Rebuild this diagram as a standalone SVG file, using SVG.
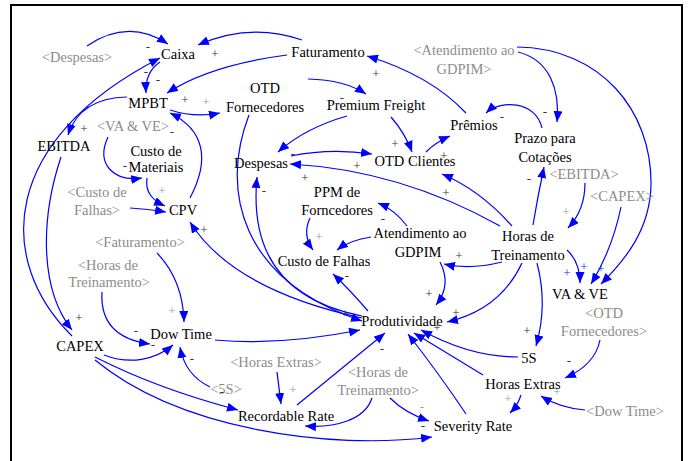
<svg xmlns="http://www.w3.org/2000/svg" width="688" height="461" viewBox="0 0 688 461" font-family="'Liberation Serif', 'Times New Roman', serif">
<defs>
<marker id="ah" markerUnits="userSpaceOnUse" markerWidth="12" markerHeight="10" refX="11" refY="4.5" orient="auto">
<path d="M0,0 L11,4.5 L0,9 z" fill="#0000ff"/>
</marker>
<style>
text{font-family:'Liberation Serif','Times New Roman',serif;font-size:14.5px;text-anchor:middle}
.n{fill:#000}
.g{fill:#8c8c8c}
.p{fill:#333;font-size:13px}
.pg{fill:#999;font-size:13px}
.pb{fill:#2020ff;font-size:13px}
#links path{fill:none;stroke:#0000ff;stroke-width:1.2;marker-end:url(#ah)}
</style>
</defs>
<rect x="0" y="0" width="688" height="461" fill="#fff"/>
<rect x="11" y="5" width="671" height="470" fill="none" stroke="#000" stroke-width="2"/>
<g id="links">
<path d="M87,46 Q128,18 168,44"/>
<path d="M302,40 Q250,22 198,45"/>
<path d="M287,55 Q210,65 167,93"/>
<path d="M160,62 Q145,72 146,93"/>
<path d="M72,336 C-5,260 0,140 160,58"/>
<path d="M61,157 C40,220 40,290 72,330"/>
<path d="M127,97 Q80,98 68,135"/>
<path d="M170,110 Q195,118 220,113"/>
<path d="M190,198 C210,160 205,130 170,113"/>
<path d="M108,137 C95,165 115,182 142,178"/>
<path d="M147,178 C145,192 152,200 165,206"/>
<path d="M130,208 Q148,209 166,212"/>
<path d="M362,318 C280,300 220,270 190,222"/>
<path d="M249,115 C220,190 240,280 362,321"/>
<path d="M362,316 C280,300 250,250 257,177"/>
<path d="M368,311 Q350,290 333,274"/>
<path d="M215,340 C270,345 320,338 360,330"/>
<path d="M308,79 Q345,80 366,94"/>
<path d="M347,116 Q305,128 278,152"/>
<path d="M291,156 Q330,148 372,154"/>
<path d="M391,117 Q405,133 412,152"/>
<path d="M426,152 Q436,142 450,136"/>
<path d="M466,113 Q430,75 367,56"/>
<path d="M542,128 C535,100 500,100 486,113"/>
<path d="M518,52 C550,60 560,90 557,122"/>
<path d="M517,47 C600,48 652,110 651,185 C650,230 625,260 601,284"/>
<path d="M500,226 Q400,170 290,164"/>
<path d="M512,226 Q480,190 442,174"/>
<path d="M533,225 Q538,195 544,167"/>
<path d="M502,262 Q470,270 444,264"/>
<path d="M522,263 Q500,310 447,322"/>
<path d="M537,263 Q548,305 536,346"/>
<path d="M567,250 Q580,262 580,283"/>
<path d="M585,183 Q585,210 568,228"/>
<path d="M621,207 Q612,250 591,284"/>
<path d="M407,226 Q395,210 378,203"/>
<path d="M371,237 Q350,240 337,250"/>
<path d="M310,218 Q302,235 313,250"/>
<path d="M440,262 Q452,285 436,305"/>
<path d="M157,253 Q183,280 184,322"/>
<path d="M102,292 C100,325 120,340 150,344"/>
<path d="M104,355 C130,365 155,360 173,345"/>
<path d="M210,387 Q185,375 180,347"/>
<path d="M95,357 C150,385 200,400 238,410"/>
<path d="M95,360 C180,430 330,450 432,437"/>
<path d="M277,372 Q279,388 281,404"/>
<path d="M297,405 Q340,370 385,333"/>
<path d="M372,398 C365,420 335,428 305,426"/>
<path d="M390,398 Q405,413 429,421"/>
<path d="M466,414 Q440,375 408,334"/>
<path d="M521,395 Q518,405 510,413"/>
<path d="M483,375 Q450,355 414,333"/>
<path d="M518,357 Q470,357 421,330"/>
<path d="M600,340 Q595,365 565,378"/>
<path d="M585,410 Q560,408 541,396"/>
</g>
<g id="polarity">
<text class="p" x="148" y="51">-</text>
<text class="p" x="215" y="58">+</text>
<text class="p" x="146" y="76">-</text>
<text class="p" x="158" y="84">-</text>
<text class="p" x="185" y="104">+</text>
<text class="pg" x="206" y="106">+</text>
<text class="p" x="84" y="133">+</text>
<text class="p" x="172" y="136">-</text>
<text class="pb" x="125" y="170">-</text>
<text class="pg" x="162" y="195">+</text>
<text class="p" x="204" y="234">+</text>
<text class="p" x="264" y="195">-</text>
<text class="p" x="293" y="158">-</text>
<text class="p" x="305" y="182">+</text>
<text class="p" x="357" y="170">+</text>
<text class="p" x="376" y="78">+</text>
<text class="p" x="395" y="148">+</text>
<text class="p" x="444" y="160">+</text>
<text class="p" x="502" y="121">-</text>
<text class="p" x="545" y="116">-</text>
<text class="p" x="342" y="102">-</text>
<text class="p" x="383" y="223">-</text>
<text class="pg" x="319" y="241">+</text>
<text class="p" x="446" y="197">+</text>
<text class="p" x="529" y="183">-</text>
<text class="pg" x="566" y="216">+</text>
<text class="p" x="459" y="260">+</text>
<text class="pb" x="567" y="277">+</text>
<text class="pb" x="584" y="271">+</text>
<text class="pb" x="601" y="273">+</text>
<text class="p" x="429" y="298">+</text>
<text class="p" x="456" y="317">+</text>
<text class="p" x="437" y="332">+</text>
<text class="p" x="429" y="335">-</text>
<text class="p" x="347" y="280">-</text>
<text class="p" x="345" y="318">+</text>
<text class="p" x="382" y="353">-</text>
<text class="p" x="527" y="335">+</text>
<text class="p" x="569" y="365">-</text>
<text class="pg" x="557" y="396">+</text>
<text class="pg" x="508" y="403">+</text>
<text class="pg" x="422" y="411">-</text>
<text class="p" x="423" y="430">-</text>
<text class="pg" x="293" y="394">+</text>
<text class="pg" x="172" y="315">+</text>
<text class="p" x="136" y="335">-</text>
<text class="p" x="153" y="349">-</text>
<text class="p" x="192" y="363">-</text>
<text class="p" x="79" y="322">+</text>
<text class="p" x="222" y="396">-</text>
</g>
<g id="n-caixa"><text class="n" x="178" y="59">Caixa</text></g>
<g id="s-despesas"><text class="g" x="77" y="62">&lt;Despesas&gt;</text></g>
<g id="n-faturamento"><text class="n" x="328" y="57">Faturamento</text></g>
<g id="s-atendimento"><text class="g" x="464" y="55">&lt;Atendimento ao</text><text class="g" x="464" y="74">GDPIM&gt;</text></g>
<g id="n-mpbt"><text class="n" x="148" y="108">MPBT</text></g>
<g id="n-otdforn"><text class="n" x="265" y="93">OTD</text><text class="n" x="265" y="112">Fornecedores</text></g>
<g id="n-premium"><text class="n" x="376" y="110">Premium Freight</text></g>
<g id="n-premios"><text class="n" x="474" y="130">Prêmios</text></g>
<g id="n-prazo"><text class="n" x="545" y="143">Prazo para</text><text class="n" x="545" y="162">Cotações</text></g>
<g id="n-ebitda"><text class="n" x="64" y="151">EBITDA</text></g>
<g id="s-vave"><text class="g" x="133" y="131">&lt;VA &amp; VE&gt;</text></g>
<g id="n-customat"><text class="n" x="156" y="156">Custo de</text><text class="n" x="156" y="172">Materiais</text></g>
<g id="n-despesas"><text class="n" x="261" y="168">Despesas</text></g>
<g id="n-otdcli"><text class="n" x="415" y="166">OTD Clientes</text></g>
<g id="s-custofalhas"><text class="g" x="97" y="197">&lt;Custo de</text><text class="g" x="97" y="215">Falhas&gt;</text></g>
<g id="n-cpv"><text class="n" x="183" y="215">CPV</text></g>
<g id="n-ppm"><text class="n" x="337" y="197">PPM de</text><text class="n" x="337" y="215">Forncedores</text></g>
<g id="n-atendimento"><text class="n" x="420" y="238">Atendimento ao</text><text class="n" x="418" y="257">GDPIM</text></g>
<g id="n-horas"><text class="n" x="528" y="241">Horas de</text><text class="n" x="528" y="260">Treinamento</text></g>
<g id="s-ebitda"><text class="g" x="584" y="179">&lt;EBITDA&gt;</text></g>
<g id="s-capex"><text class="g" x="622" y="201">&lt;CAPEX&gt;</text></g>
<g id="n-custofalhas"><text class="n" x="324" y="266">Custo de Falhas</text></g>
<g id="s-faturamento"><text class="g" x="140" y="247">&lt;Faturamento&gt;</text></g>
<g id="s-horas1"><text class="g" x="108" y="270">&lt;Horas de</text><text class="g" x="109" y="287">Treinamento&gt;</text></g>
<g id="n-vave"><text class="n" x="580" y="299">VA &amp; VE</text></g>
<g id="s-otdforn"><text class="g" x="604" y="318">&lt;OTD</text><text class="g" x="604" y="336">Fornecedores&gt;</text></g>
<g id="n-produtividade"><text class="n" x="402" y="326">Produtividade</text></g>
<g id="n-capex"><text class="n" x="80" y="351">CAPEX</text></g>
<g id="n-dowtime"><text class="n" x="181" y="339">Dow Time</text></g>
<g id="n-5s"><text class="n" x="529" y="363">5S</text></g>
<g id="s-horasextras"><text class="g" x="276" y="367">&lt;Horas Extras&gt;</text></g>
<g id="s-horas2"><text class="g" x="378" y="377">&lt;Horas de</text><text class="g" x="378" y="395">Treinamento&gt;</text></g>
<g id="s-5s"><text class="g" x="226" y="394">&lt;5S&gt;</text></g>
<g id="n-horasextras"><text class="n" x="523" y="389">Horas Extras</text></g>
<g id="n-recordable"><text class="n" x="286" y="421">Recordable Rate</text></g>
<g id="n-severity"><text class="n" x="473" y="431">Severity Rate</text></g>
<g id="s-dowtime"><text class="g" x="625" y="416">&lt;Dow Time&gt;</text></g>
</svg>
